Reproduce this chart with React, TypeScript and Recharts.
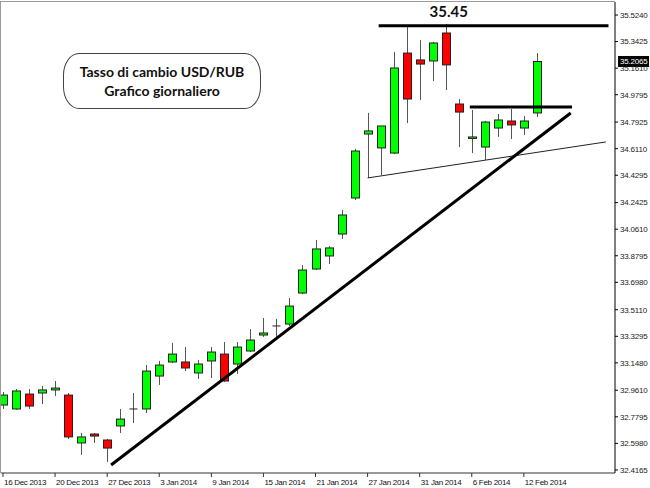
import React from "react";
import { ComposedChart, Bar, XAxis, YAxis, ReferenceLine, ReferenceDot } from "recharts";

// trading days shown (one candle each)
const dates = [
  "16 Dec 2013", "17 Dec 2013", "18 Dec 2013", "19 Dec 2013", "20 Dec 2013",
  "23 Dec 2013", "24 Dec 2013", "26 Dec 2013", "27 Dec 2013", "30 Dec 2013",
  "31 Dec 2013", "2 Jan 2014", "3 Jan 2014", "6 Jan 2014", "7 Jan 2014",
  "8 Jan 2014", "9 Jan 2014", "10 Jan 2014", "13 Jan 2014", "14 Jan 2014",
  "15 Jan 2014", "16 Jan 2014", "17 Jan 2014", "20 Jan 2014", "21 Jan 2014",
  "22 Jan 2014", "23 Jan 2014", "24 Jan 2014", "27 Jan 2014", "28 Jan 2014",
  "29 Jan 2014", "30 Jan 2014", "31 Jan 2014", "3 Feb 2014", "4 Feb 2014",
  "5 Feb 2014", "6 Feb 2014", "7 Feb 2014", "10 Feb 2014", "11 Feb 2014",
  "12 Feb 2014", "13 Feb 2014",
];

const opens = [
  32.860, 32.833, 32.935, 32.942, 32.963, 32.928, 32.601, 32.662, 32.621, 32.717,
  32.833, 32.833, 33.058, 33.154, 33.154, 33.079, 33.161, 33.208, 33.140, 33.229,
  33.338, 33.400, 33.413, 33.625, 33.789, 33.878, 34.028, 34.274, 34.711, 34.616,
  34.581, 35.264, 35.217, 35.210, 35.401, 34.916, 34.684, 34.622, 34.752, 34.800,
  34.752, 34.855,
];
const highs = [
  32.949, 32.969, 32.969, 32.990, 33.024, 32.942, 32.669, 32.669, 32.628, 32.833,
  32.942, 33.133, 33.161, 33.284, 33.256, 33.167, 33.256, 33.290, 33.290, 33.379,
  33.454, 33.448, 33.591, 33.816, 33.987, 33.946, 34.192, 34.609, 34.855, 34.766,
  35.271, 35.442, 35.353, 35.340, 35.463, 34.950, 34.875, 34.800, 34.848, 34.882,
  34.834, 35.264,
];
const lows = [
  32.833, 32.826, 32.833, 32.867, 32.922, 32.628, 32.519, 32.601, 32.471, 32.669,
  32.737, 32.805, 32.997, 33.147, 33.092, 33.038, 33.045, 33.017, 33.072, 33.222,
  33.325, 33.325, 33.400, 33.618, 33.782, 33.823, 33.994, 34.260, 34.411, 34.431,
  34.575, 34.786, 34.943, 35.073, 35.012, 34.622, 34.581, 34.534, 34.691, 34.677,
  34.704, 34.827,
];
const closes = [
  32.928, 32.956, 32.853, 32.963, 32.976, 32.642, 32.642, 32.648, 32.566, 32.764,
  32.833, 33.092, 33.133, 33.208, 33.113, 33.140, 33.222, 33.024, 33.256, 33.304,
  33.352, 33.400, 33.536, 33.782, 33.926, 33.933, 34.158, 34.595, 34.732, 34.766,
  35.162, 34.950, 35.189, 35.333, 35.183, 34.861, 34.691, 34.793, 34.807, 34.773,
  34.800, 35.2065,
];

const xTickIdx = [0, 4, 8, 12, 16, 20, 24, 28, 32, 36, 40];
const yTicks = [
  32.4165, 32.598, 32.7795, 32.961, 33.148, 33.3295, 33.511, 33.698, 33.8795,
  34.061, 34.2425, 34.4295, 34.611, 34.7925, 34.9795, 35.161, 35.3425, 35.524,
];

// drawn annotations: [x index, price] pairs
const supportLine = [[8.3, 32.45], [43.6, 34.855]];
const thinLine = [[28.0, 34.411], [46.3, 34.657]];
const topLine = [[28.85, 35.45], [46.5, 35.45]];
const neckLine = [[35.85, 34.896], [43.7, 34.896]];
const lastPrice = 35.2065;

const candles = dates.map((d, i) => ({
  i,
  date: d,
  open: opens[i],
  high: highs[i],
  low: lows[i],
  close: closes[i],
  range: [lows[i], highs[i]],
}));

const axisFont = "'Liberation Sans', Arial, sans-serif";

function Candle(props: any) {
  const { x, y, width, height, payload } = props;
  const { open, close, high, low } = payload;
  const k = height / (high - low);
  const cx = Math.round(x + width / 2) + 0.5;
  const top = y + (high - Math.max(open, close)) * k;
  const bot = y + (high - Math.min(open, close)) * k;
  const up = close >= open;
  return (
    <g>
      <line x1={cx} x2={cx} y1={y} y2={y + height} stroke="#555" strokeWidth={1} />
      {open === close ? (
        <line x1={cx - 4} x2={cx + 4} y1={top} y2={top} stroke="#222" strokeWidth={1} />
      ) : (
        <rect
          x={cx - 4}
          y={top}
          width={8}
          height={Math.max(bot - top, 1.5)}
          fill={up ? "#00ff00" : "#ff0000"}
          stroke="#222"
          strokeWidth={1}
        />
      )}
    </g>
  );
}

function XTick(props: any) {
  const { x, y, payload } = props;
  return (
    <text x={x + 1} y={y} dy={6} textAnchor="start" fontSize={8} letterSpacing={-0.3} fill="#111" fontFamily={axisFont}>
      {dates[payload.value]}
    </text>
  );
}

function PriceTag(props: any) {
  const { viewBox } = props;
  const x = viewBox.x + viewBox.width + 3;
  const y = viewBox.y;
  return (
    <g>
      <rect x={x} y={y - 5.5} width={31} height={11} fill="#000" />
      <text x={x + 2} y={y + 3} fontSize={8} letterSpacing={-0.2} fill="#fff" fontFamily={axisFont}>
        {lastPrice.toFixed(4)}
      </text>
    </g>
  );
}

const seg = (pts: number[][]) => pts.map(([x, y]) => ({ x, y }));

export default function App() {
  return (
    <div style={{ position: "absolute", left: 0, top: 0, width: 650, height: 488, background: "#fff" }}>
      <ComposedChart width={650} height={488} data={candles} margin={{ top: 2, right: 0, left: 1, bottom: 0 }}>
        <XAxis
          type="number"
          dataKey="i"
          domain={[-0.154, 47]}
          allowDataOverflow
          ticks={xTickIdx}
          interval={0}
          tick={<XTick />}
          tickSize={4}
          tickMargin={2}
          stroke="#333"
          height={15}
        />
        <YAxis
          orientation="right"
          type="number"
          domain={[32.3957, 35.6128]}
          allowDataOverflow
          ticks={yTicks}
          interval={0}
          width={35}
          tickSize={3}
          tickMargin={2}
          tick={{ fontSize: 8, fill: "#222", fontFamily: axisFont, letterSpacing: -0.2 }}
          tickFormatter={(v: number) => v.toFixed(4)}
          stroke="#000"
        />
        <Bar dataKey="range" barSize={9} shape={<Candle />} isAnimationActive={false} />
        <ReferenceLine segment={seg(thinLine)} stroke="#222" strokeWidth={1} />
        <ReferenceLine segment={seg(supportLine)} stroke="#000" strokeWidth={3} />
        <ReferenceLine segment={seg(topLine)} stroke="#000" strokeWidth={3} />
        <ReferenceLine segment={seg(neckLine)} stroke="#000" strokeWidth={3} />
        <ReferenceDot
          x={34.23}
          y={35.45}
          r={0}
          fill="none"
          stroke="none"
          label={{ value: "35.45", position: "top", offset: 9, fontSize: 15, fontWeight: 700, fill: "#111", fontFamily: "Lato, sans-serif" }}
        />
        <ReferenceLine y={lastPrice} stroke="none" label={<PriceTag />} />
      </ComposedChart>
      {/* frame on top and left */}
      <div style={{ position: "absolute", left: 0, top: 1, width: 615, height: 1, background: "#999" }} />
      <div style={{ position: "absolute", left: 0, top: 1, width: 1, height: 472, background: "#999" }} />
      <div
        style={{
          position: "absolute",
          left: 63,
          top: 53,
          width: 196,
          height: 54,
          border: "1px solid #444",
          borderRadius: "16px / 22px",
          display: "flex",
          flexDirection: "column",
          alignItems: "center",
          justifyContent: "center",
          fontFamily: "Lato, sans-serif",
          fontWeight: 700,
          fontSize: 14,
          lineHeight: "19px",
          color: "#111",
        }}
      >
        <div>Tasso di cambio USD/RUB</div>
        <div>Grafico giornaliero</div>
      </div>
    </div>
  );
}
